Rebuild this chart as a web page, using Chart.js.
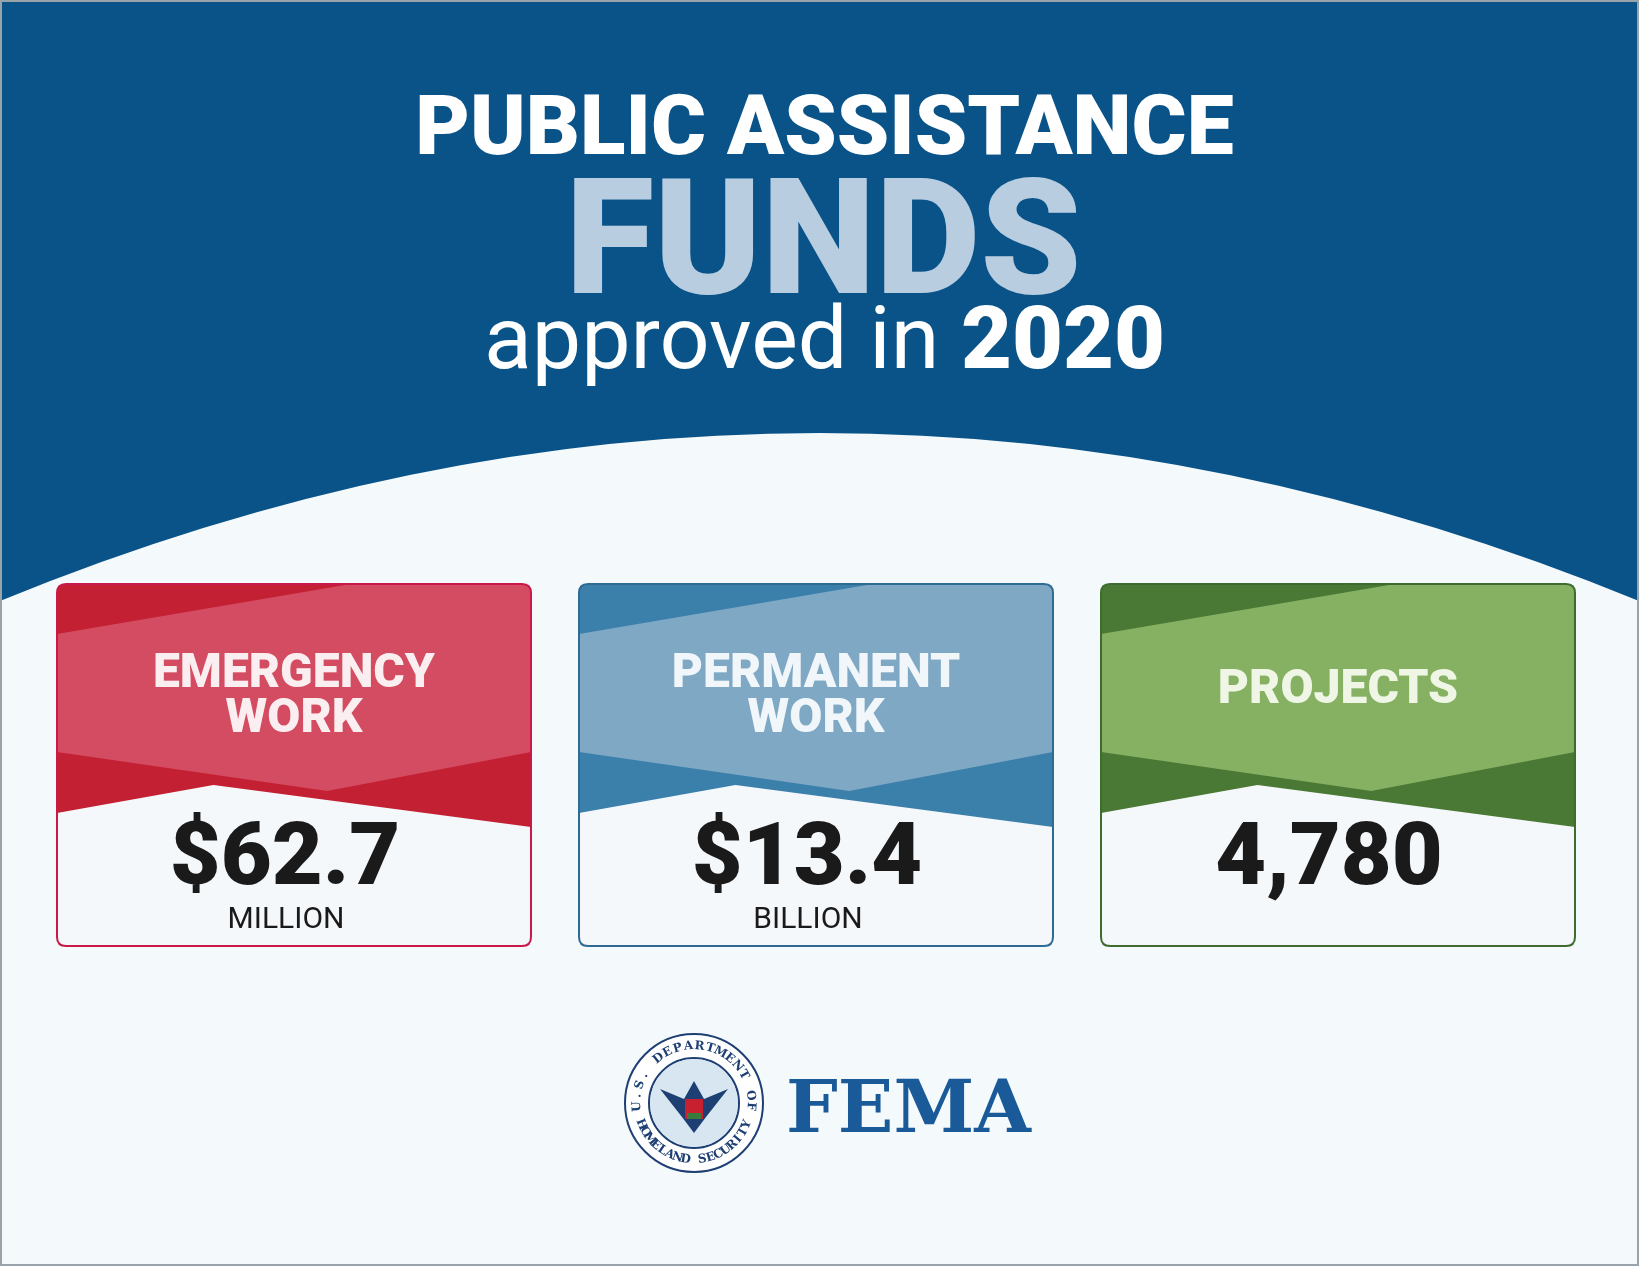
<!DOCTYPE html>
<html>
<head>
<meta charset="utf-8">
<script src="https://cdn.jsdelivr.net/npm/chart.js@4/dist/chart.umd.min.js"></script>
<style>
  html, body { margin: 0; padding: 0; background: #f4f9fb; }
  canvas { display: block; }
</style>
</head>
<body>
<canvas id="card-chart" width="1639" height="1266"></canvas>
<script>
// card data
const cardLabels = [["EMERGENCY", "WORK"], ["PERMANENT", "WORK"], ["PROJECTS"]];
const cardValues = ["$62.7", "$13.4", "4,780"];
const cardUnits = ["MILLION", "BILLION", ""];
const cardDark = ["#c42033", "#3b7fab", "#4a7835"];
const cardLight = ["#d44c62", "#7fa8c4", "#86b062"];
const cardBorder = ["#c8194a", "#2f6a93", "#3f6b2e"];
const cardText = ["#fbeef0", "#f1f6fa", "#eff6e6"];

const W = 1639, H = 1266;

function roundRectPath(ctx, x, y, w, h, r) {
  ctx.beginPath();
  ctx.moveTo(x + r, y);
  ctx.lineTo(x + w - r, y);
  ctx.quadraticCurveTo(x + w, y, x + w, y + r);
  ctx.lineTo(x + w, y + h - r);
  ctx.quadraticCurveTo(x + w, y + h, x + w - r, y + h);
  ctx.lineTo(x + r, y + h);
  ctx.quadraticCurveTo(x, y + h, x, y + h - r);
  ctx.lineTo(x, y + r);
  ctx.quadraticCurveTo(x, y, x + r, y);
  ctx.closePath();
}

const backdrop = {
  id: "backdrop",
  beforeDraw(chart) {
    const ctx = chart.ctx;
    ctx.save();
    ctx.fillStyle = "#f4f9fb";
    ctx.fillRect(0, 0, W, H);
    // blue top with arc
    ctx.fillStyle = "#0a5389";
    ctx.beginPath();
    ctx.moveTo(0, 0);
    ctx.lineTo(W, 0);
    ctx.lineTo(W, 601);
    ctx.quadraticCurveTo(W / 2, 265, 0, 601);
    ctx.closePath();
    ctx.fill();
    // titles
    ctx.textAlign = "center";
    ctx.textBaseline = "alphabetic";
    ctx.fillStyle = "#ffffff";
    ctx.font = "900 84px Roboto";
    ctx.fillText("PUBLIC ASSISTANCE", W / 2 + 5, 154);
    ctx.fillStyle = "#b8cde0";
    ctx.font = "900 162px Roboto";
    ctx.fillText("FUNDS", W / 2 + 4, 293);
    ctx.fillStyle = "#ffffff";
    const a = "approved in ";
    ctx.font = "400 88px Roboto";
    const wa = ctx.measureText(a).width;
    ctx.font = "900 88px Roboto";
    const wb = ctx.measureText("2020").width;
    const sx = W / 2 + 5 - (wa + wb) / 2;
    ctx.textAlign = "left";
    ctx.font = "400 88px Roboto";
    ctx.fillText(a, sx, 368);
    ctx.font = "900 88px Roboto";
    ctx.fillText("2020", sx + wa, 368);
    // page border
    ctx.strokeStyle = "#9aa3aa";
    ctx.lineWidth = 2;
    ctx.strokeRect(1, 1, W - 2, H - 2);
    ctx.restore();
  },
  afterDraw(chart) {
    const ctx = chart.ctx;
    ctx.save();
    // FEMA seal
    const cx = 694, cy = 1103, r = 69;
    ctx.fillStyle = "#ffffff";
    ctx.beginPath(); ctx.arc(cx, cy, r, 0, Math.PI * 2); ctx.fill();
    ctx.strokeStyle = "#1d3f73"; ctx.lineWidth = 2;
    ctx.beginPath(); ctx.arc(cx, cy, r, 0, Math.PI * 2); ctx.stroke();
    ctx.beginPath(); ctx.arc(cx, cy, r - 24, 0, Math.PI * 2); ctx.stroke();
    ctx.fillStyle = "#1d3f73";
    ctx.font = "bold 12px 'DejaVu Serif'";
    ctx.textAlign = "center"; ctx.textBaseline = "middle";
    const ring = (txt, start, end, top) => {
      const n = txt.length;
      for (let i = 0; i < n; i++) {
        const ang = start + (end - start) * (i + 0.5) / n;
        ctx.save();
        ctx.translate(cx + Math.cos(ang) * (r - 12), cy + Math.sin(ang) * (r - 12));
        ctx.rotate(top ? ang + Math.PI / 2 : ang - Math.PI / 2);
        ctx.fillText(txt[i], 0, 0);
        ctx.restore();
      }
    };
    ring("U.S. DEPARTMENT OF", Math.PI * 0.95, Math.PI * 2.05, true);
    ring("HOMELAND SECURITY", Math.PI * 0.9, Math.PI * 0.1, false);
    ctx.fillStyle = "#d8e6f2";
    ctx.beginPath(); ctx.arc(cx, cy, r - 25, 0, Math.PI * 2); ctx.fill();
    ctx.fillStyle = "#1d3f73";
    ctx.beginPath();
    ctx.moveTo(cx - 34, cy - 14); ctx.lineTo(cx - 10, cy - 4); ctx.lineTo(cx, cy - 22);
    ctx.lineTo(cx + 10, cy - 4); ctx.lineTo(cx + 34, cy - 14); ctx.lineTo(cx + 12, cy + 14);
    ctx.lineTo(cx, cy + 30); ctx.lineTo(cx - 12, cy + 14); ctx.closePath(); ctx.fill();
    ctx.fillStyle = "#c8202f";
    ctx.fillRect(cx - 9, cy - 4, 18, 20);
    ctx.fillStyle = "#3a7a3a";
    ctx.fillRect(cx - 7, cy + 10, 14, 6);
    // FEMA wordmark
    ctx.fillStyle = "#1b5a98";
    ctx.font = "bold 73px 'DejaVu Serif'";
    ctx.textAlign = "left"; ctx.textBaseline = "alphabetic";
    ctx.fillText("FEMA", 786, 1132);
    ctx.restore();
  }
};

const cards = {
  id: "cards",
  afterDatasetsDraw(chart) {
    const ctx = chart.ctx;
    const meta = chart.getDatasetMeta(0);
    meta.data.forEach((bar, i) => {
      const L = bar.x - bar.width / 2, R = bar.x + bar.width / 2;
      const T = bar.y, B = bar.base, w = R - L, h = B - T;
      ctx.save();
      roundRectPath(ctx, L, T, w, h, 9);
      ctx.clip();
      ctx.fillStyle = cardDark[i];
      ctx.fillRect(L, T, w, h);
      ctx.fillStyle = cardLight[i];
      ctx.beginPath();
      ctx.moveTo(L, T + 50); ctx.lineTo(L + 0.62 * w, T); ctx.lineTo(R, T);
      ctx.lineTo(R, T + 168); ctx.lineTo(L + 0.57 * w, T + 207); ctx.lineTo(L, T + 168);
      ctx.closePath(); ctx.fill();
      ctx.fillStyle = "#f5f8fa";
      ctx.beginPath();
      ctx.moveTo(L, T + 229); ctx.lineTo(L + 0.33 * w, T + 201); ctx.lineTo(R, T + 243);
      ctx.lineTo(R, B); ctx.lineTo(L, B); ctx.closePath(); ctx.fill();
      ctx.restore();
      ctx.save();
      roundRectPath(ctx, L, T, w, h, 9);
      ctx.strokeStyle = cardBorder[i]; ctx.lineWidth = 2; ctx.stroke();
      ctx.textAlign = "center"; ctx.textBaseline = "middle";
      const cx = (L + R) / 2;
      ctx.fillStyle = cardText[i];
      ctx.font = "900 48px Roboto";
      const lines = cardLabels[i];
      const y0 = lines.length === 1 ? T + 107 : T + 91;
      lines.forEach((ln, k) => ctx.fillText(ln, cx, y0 + k * 45));
      ctx.fillStyle = "#1a1a1a";
      ctx.font = "900 88px Roboto";
      ctx.fillText(cardValues[i], cx - 9, T + 278);
      ctx.font = "400 30px Roboto";
      ctx.fillText(cardUnits[i], cx - 8, T + 336);
      ctx.restore();
    });
  }
};

new Chart(document.getElementById("card-chart"), {
  type: "bar",
  data: {
    labels: cardValues,
    datasets: [{ data: [1, 1, 1], backgroundColor: "rgba(0,0,0,0)", barPercentage: 0.908, categoryPercentage: 1 }]
  },
  options: {
    responsive: false,
    animation: false,
    devicePixelRatio: 1,
    layout: { padding: { top: 584, bottom: 320, left: 33, right: 40 } },
    scales: {
      x: { display: false },
      y: { display: false, min: 0, max: 1 }
    },
    plugins: { legend: { display: false }, tooltip: { enabled: false } }
  },
  plugins: [backdrop, cards]
});
</script>
</body>
</html>
